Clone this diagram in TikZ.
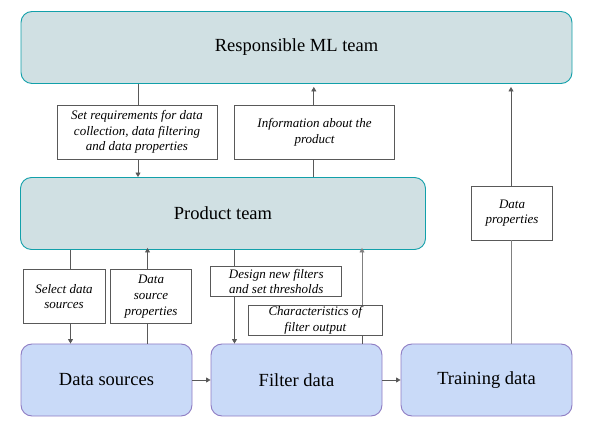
\documentclass[tikz,border=0pt]{standalone}
\usepackage{fontspec}
\setmainfont{LiberationSerif}[Extension=.ttf,UprightFont=*-Regular,ItalicFont=*-Italic,BoldFont=*-Bold,BoldItalicFont=*-BoldItalic]
\usetikzlibrary{arrows.meta}
\definecolor{tealfill}{HTML}{D0E0E3}
\definecolor{tealdraw}{HTML}{12A0AA}
\definecolor{bluefill}{HTML}{C9DAF8}
\definecolor{bluedraw}{HTML}{8E7CC3}
\definecolor{linecol}{HTML}{595959}
\begin{document}
\begin{tikzpicture}[x=1pt,y=-1pt,
  team/.style={draw=tealdraw,fill=tealfill,line width=0.9pt,rounded corners=11pt,
    minimum height=72pt,inner sep=0pt,font=\fontsize{18.5}{22}\selectfont},
  flowbox/.style={draw=bluedraw,fill=bluefill,line width=0.9pt,rounded corners=11pt,
    minimum width=171pt,minimum height=72pt,inner sep=0pt,font=\fontsize{18.5}{22}\selectfont},
  lbl/.style={draw=linecol,fill=white,line width=0.8pt,inner sep=0pt,align=center,
    font=\fontsize{13}{15.7}\selectfont\itshape},
  conn/.style={draw=linecol,line width=0.8pt},
  arr/.style={conn,-{Triangle[length=4.5pt,width=5pt]}}]
\useasboundingbox (0,0) rectangle (592,438);
% main boxes
\node[team,minimum width=551pt] (rml) at (296.5,47.5) {Responsible ML team};
\node[team,minimum width=405pt] (prod) at (223,213.5) {Product team};
\node[flowbox] (ds) at (106.5,380) {Data sources};
\node[flowbox] (fd) at (296.5,380) {Filter data};
\node[flowbox] (td) at (486.5,380) {Training data};
% label boxes
\node[lbl,minimum width=160pt,minimum height=54pt] (l1) at (137,132) {Set requirements for data\\collection, data filtering\\and data properties};
\node[lbl,minimum width=160pt,minimum height=54pt] (l2) at (314.5,132) {Information about the\\product};
\node[lbl,minimum width=81pt,minimum height=54pt] (l3) at (512,213) {Data\\properties};
\node[lbl,minimum width=82pt,minimum height=54pt] (l4) at (64,296.5) {Select data\\sources};
\node[lbl,minimum width=81pt,minimum height=54pt] (l5) at (151,296.5) {Data\\source\\properties};
\node[lbl,minimum width=131pt,minimum height=29.6pt] (l6) at (276.3,281.5) {Design new filters\\and set thresholds};
\node[lbl,minimum width=133.5pt,minimum height=30pt] (l7) at (315.3,320.3) {Characteristics of\\filter output};
% connector x positions
\coordinate (c1) at (138,0);
\coordinate (c2) at (313.8,0);
\coordinate (c3) at (511,0);
\coordinate (c4) at (70.5,0);
\coordinate (c5) at (147.5,0);
\coordinate (c6) at (234.5,0);
\coordinate (c7) at (362,0);
% connectors
\draw[conn] (rml.south -| c1) -- (l1.north -| c1);
\draw[arr] (l1.south -| c1) -- (prod.north -| c1);
\draw[conn] (prod.north -| c2) -- (l2.south -| c2);
\draw[arr] (l2.north -| c2) -- ([yshift=-3pt]rml.south -| c2);
\draw[conn,draw=gray] (td.north -| c3) -- (l3.south -| c3);
\draw[arr] (l3.north -| c3) -- ([yshift=-3pt]rml.south -| c3);
\draw[conn] (prod.south -| c4) -- (l4.north -| c4);
\draw[arr] (l4.south -| c4) -- (ds.north -| c4);
\draw[conn] (ds.north -| c5) -- (l5.south -| c5);
\draw[arr] (l5.north -| c5) -- ([yshift=2pt]prod.south -| c5);
\draw[conn] (prod.south -| c6) -- (l6.north -| c6);
\draw[arr] (l6.south -| c6) -- (fd.north -| c6);
\draw[conn] (fd.north -| c7) -- (l7.south -| c7);
\draw[arr,draw=gray] (l7.north -| c7) -- ([yshift=2pt]prod.south -| c7);
\draw[arr] (ds.east) -- (fd.west);
\draw[arr] (fd.east) -- (td.west);
\end{tikzpicture}
\end{document}
